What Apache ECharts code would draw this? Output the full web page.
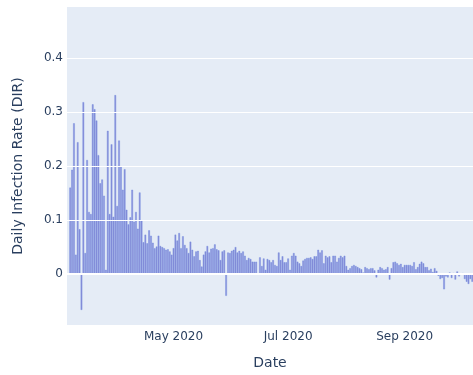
<!DOCTYPE html>
<html>
<head>
<meta charset="utf-8">
<script src="https://cdn.jsdelivr.net/npm/echarts@6/dist/echarts.min.js"></script>
<style>
  html, body { margin: 0; padding: 0; background: #ffffff; }
  #chart { width: 473px; height: 375px; }
</style>
</head>
<body>
<div id="chart"></div>
<script>
// Daily infection rate (DIR), one value per day starting 2020-03-07
const startDate = '2020-03-07';
const dirMarch = [0.160, 0.193, 0.279, 0.036, 0.244, 0.083, -0.066, 0.318, 0.039, 0.211,
  0.115, 0.111, 0.314, 0.305, 0.284, 0.220, 0.168, 0.175, 0.145, 0.008,
  0.265, 0.111, 0.240, 0.106, 0.331];
const dirApril = [0.126, 0.247, 0.199, 0.156, 0.194, 0.119, 0.092, 0.105, 0.156, 0.097,
  0.115, 0.084, 0.151, 0.099, 0.059, 0.073, 0.057, 0.081, 0.071, 0.058,
  0.048, 0.051, 0.071, 0.052, 0.050, 0.048, 0.045, 0.046, 0.042, 0.036];
const dirMay = [0.048, 0.073, 0.062, 0.076, 0.048, 0.070, 0.054, 0.048, 0.039, 0.060,
  0.045, 0.033, 0.042, 0.043, 0.026, 0.014, 0.036, 0.042, 0.052, 0.040,
  0.047, 0.048, 0.055, 0.046, 0.044, 0.026, 0.042, 0.044, -0.040, 0.040, 0.039];
const dirJune = [0.043, 0.045, 0.050, 0.040, 0.043, 0.039, 0.042, 0.034, 0.026, 0.030,
  0.028, 0.023, 0.023, 0.023, null, 0.031, 0.015, 0.029, 0.008, 0.028,
  0.026, 0.022, 0.026, 0.017, 0.015, 0.040, 0.026, 0.033, 0.022, 0.022];
const dirJuly = [0.029, 0.008, 0.034, 0.039, 0.034, 0.023, 0.020, 0.015, 0.025, 0.028,
  0.030, 0.030, 0.031, 0.028, 0.033, 0.033, 0.045, 0.040, 0.044, 0.020,
  0.034, 0.031, 0.033, 0.022, 0.034, 0.034, 0.023, 0.030, 0.034, 0.031, 0.034];
const dirAugust = [0.015, 0.008, 0.011, 0.015, 0.017, 0.015, 0.013, 0.011, 0.009, 0.003,
  0.013, 0.011, 0.009, 0.011, 0.011, 0.007, -0.006, 0.008, 0.013, 0.011,
  0.008, 0.009, 0.013, -0.010, 0.011, 0.022, 0.023, 0.020, 0.017, 0.019, 0.013];
const dirSeptember = [0.017, 0.017, 0.017, 0.017, 0.015, 0.022, 0.009, 0.013, 0.019, 0.023,
  0.020, 0.013, 0.013, 0.007, 0.010, 0.004, 0.011, 0.006, -0.003, -0.009,
  -0.007, -0.028, -0.004, -0.006, 0.003, -0.007, 0.002, -0.010, 0.005, -0.004];
const dirOctober = [null, 0.002, -0.009, -0.014, -0.018, -0.009, -0.014];

// Tick labels
const xTickDates = ['2020-05-01', '2020-07-01', '2020-09-01'];
const xTickLabels = ['May 2020', 'Jul 2020', 'Sep 2020'];
const yTickValues = [0, 0.1, 0.2, 0.3, 0.4];

const dirValues = [].concat(dirMarch, dirApril, dirMay, dirJune, dirJuly,
  dirAugust, dirSeptember, dirOctober);

// The x axis counts days from startDate (UTC calendar arithmetic)
const DAY = 86400000;
const dayNumber = s => {
  const p = s.split('-').map(Number);
  return Date.UTC(p[0], p[1] - 1, p[2]) / DAY;
};
const day0 = dayNumber(startDate);
const seriesData = dirValues.map((v, i) => [i, v]);
const xTickDays = xTickDates.map(s => dayNumber(s) - day0);
const mayFirst = xTickDays[0];

const chart = echarts.init(document.getElementById('chart'), null, { renderer: 'canvas' });
const textColor = '#2a3f5f';
const font = '"DejaVu Sans", Verdana, sans-serif';

chart.setOption({
  animation: false,
  backgroundColor: '#ffffff',
  grid: {
    left: 67, right: 0, top: 7, bottom: 50,
    outerBoundsMode: 'none',
    containLabel: false,
    show: true, backgroundColor: '#e5ecf6', borderWidth: 0
  },
  xAxis: {
    type: 'value',
    min: mayFirst - 56.7,
    max: mayFirst + 159.4,
    name: 'Date',
    nameLocation: 'middle',
    nameGap: 31,
    nameTextStyle: { color: textColor, fontFamily: font, fontSize: 14 },
    axisLine: { show: false },
    axisTick: { show: false },
    splitLine: { show: false },
    axisLabel: {
      customValues: xTickDays,
      color: textColor, fontFamily: font, fontSize: 12, margin: 6,
      formatter: v => {
        const k = xTickDays.indexOf(v);
        return k >= 0 ? xTickLabels[k] : '';
      }
    }
  },
  yAxis: {
    type: 'value',
    min: -0.094,
    max: 0.494,
    name: 'Daily Infection Rate (DIR)',
    nameLocation: 'middle',
    nameGap: 42,
    nameTextStyle: { color: textColor, fontFamily: font, fontSize: 14 },
    axisLine: { show: false },
    axisTick: { show: false },
    splitLine: { show: false },
    axisLabel: {
      customValues: yTickValues,
      color: textColor, fontFamily: font, fontSize: 12, margin: 4,
      formatter: v => (Math.abs(v) < 1e-9 ? '0' : v.toFixed(1))
    }
  },
  series: [
    {
      // white horizontal gridlines at the tick values
      type: 'line',
      data: [],
      silent: true,
      markLine: {
        silent: true,
        symbol: 'none',
        label: { show: false },
        lineStyle: { color: '#ffffff', width: 1, type: 'solid' },
        data: yTickValues.map(v => ({ yAxis: v, lineStyle: { width: v === 0 ? 2 : 1 } }))
      },
      z: 1
    },
    {
      type: 'bar',
      data: seriesData,
      barWidth: 1.6,
      itemStyle: { color: '#8c8ed6', borderColor: '#6a88e0', borderWidth: 0.4 },
      z: 2
    }
  ]
});
</script>
</body>
</html>
